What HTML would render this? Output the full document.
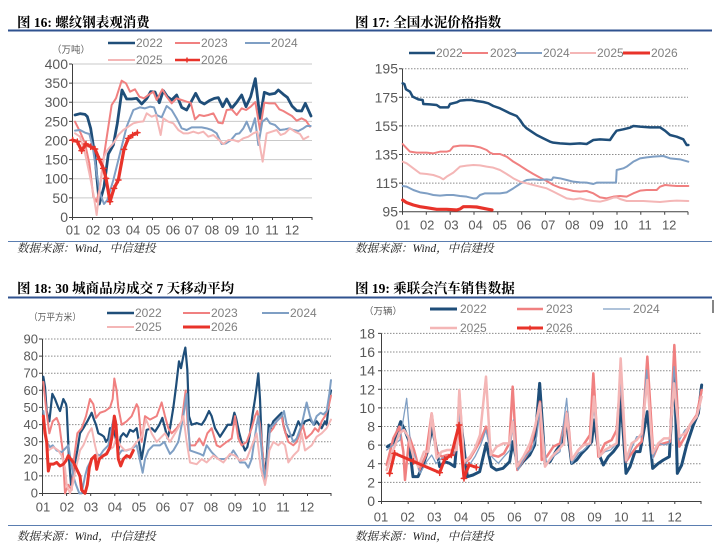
<!DOCTYPE html>
<html><head><meta charset="utf-8"><style>
html,body{margin:0;padding:0;background:#fff;width:720px;height:551px;overflow:hidden}
svg{display:block}
.t{font-family:"Liberation Serif","Noto Serif CJK SC",serif;font-weight:bold;font-size:13.5px;fill:#000}
.s{font-family:"Liberation Serif","Noto Serif CJK SC",serif;font-style:italic;font-size:11.5px;fill:#222}
.ax{font-family:"Liberation Sans",sans-serif;font-size:13px;fill:#595959}
.ay{font-family:"Liberation Sans",sans-serif;font-size:14px;fill:#595959}
.lg{font-family:"Liberation Sans",sans-serif;font-size:12px;fill:#808080}
.u{font-family:"Liberation Sans","Noto Sans CJK SC",sans-serif;font-size:9.5px;fill:#595959}
.l{fill:none;stroke-linejoin:round;stroke-linecap:round;vector-effect:non-scaling-stroke}
.g1{stroke:#c9c9c9;stroke-width:1}
.gd{stroke:#8c8c8c;stroke-width:1;stroke-dasharray:1.5 1.5}
.axl{stroke:#404040;stroke-width:1;fill:none}
</style></head><body>
<svg width="720" height="551" viewBox="0 0 720 551" xmlns="http://www.w3.org/2000/svg">
<!-- rules -->
<line x1="8" y1="30.5" x2="712" y2="30.5" stroke="#2f528f" stroke-width="2"/>
<line x1="8" y1="241.5" x2="712" y2="241.5" stroke="#5a7db0" stroke-width="1"/>
<line x1="8" y1="297.5" x2="712" y2="297.5" stroke="#2f528f" stroke-width="2"/>
<line x1="8" y1="525.5" x2="712" y2="525.5" stroke="#5a7db0" stroke-width="1"/>
<line x1="713" y1="300" x2="713" y2="313" stroke="#333" stroke-width="1.2"/>

<!-- titles -->
<text class="t" x="17" y="27">图 16: 螺纹钢表观消费</text>
<text class="t" x="355" y="27">图 17: 全国水泥价格指数</text>
<text class="t" x="17" y="293">图 18: 30 城商品房成交 7 天移动平均</text>
<text class="t" x="355" y="293">图 19: 乘联会汽车销售数据</text>
<!-- sources -->
<text class="s" x="17" y="252">数据来源：Wind，中信建投</text>
<text class="s" x="355" y="252">数据来源：Wind，中信建投</text>
<text class="s" x="17" y="540">数据来源：Wind，中信建投</text>
<text class="s" x="355" y="540">数据来源：Wind，中信建投</text>

<!-- ================= CHART 1 ================= -->
<g>
<line class="g1" x1="72" y1="64" x2="312" y2="64"/>
<line class="g1" x1="72" y1="83.1" x2="312" y2="83.1"/>
<line class="g1" x1="72" y1="102.25" x2="312" y2="102.25"/>
<line class="g1" x1="72" y1="121.4" x2="312" y2="121.4"/>
<line class="g1" x1="72" y1="140.5" x2="312" y2="140.5"/>
<line class="g1" x1="72" y1="159.6" x2="312" y2="159.6"/>
<line class="g1" x1="72" y1="178.75" x2="312" y2="178.75"/>
<line class="g1" x1="72" y1="197.9" x2="312" y2="197.9"/>
<path class="axl" d="M72.5 64V217.5H312M69 64h3M69 83.1h3M69 102.25h3M69 121.4h3M69 140.5h3M69 159.6h3M69 178.75h3M69 197.9h3M69 217.5h3
M72.5 217v3M92.5 217v3M112.5 217v3M132.5 217v3M152.5 217v3M172.5 217v3M192.5 217v3M212.5 217v3M232.5 217v3M252.5 217v3M272.5 217v3M292.5 217v3M312 217v3"/>
<g class="ay" text-anchor="end">
<text x="68" y="69">400</text><text x="68" y="88.1">350</text><text x="68" y="107.2">300</text><text x="68" y="126.4">250</text><text x="68" y="145.5">200</text><text x="68" y="164.6">150</text><text x="68" y="183.7">100</text><text x="68" y="202.9">50</text><text x="68" y="222">0</text>
</g>
<g class="ax" text-anchor="middle">
<text x="73" y="234.5">01</text><text x="93" y="234.5">02</text><text x="113" y="234.5">03</text><text x="133" y="234.5">04</text><text x="153" y="234.5">05</text><text x="173" y="234.5">06</text><text x="192" y="234.5">07</text><text x="212" y="234.5">08</text><text x="232" y="234.5">09</text><text x="252" y="234.5">10</text><text x="272" y="234.5">11</text><text x="292" y="234.5">12</text>
</g>
<text class="u" x="52" y="53">（万吨）</text>
<!-- legend -->
<line x1="108" y1="43" x2="135" y2="43" stroke="#1f4e79" stroke-width="2.5"/><text class="lg" x="136" y="47">2022</text>
<line x1="175" y1="43" x2="200" y2="43" stroke="#f08080" stroke-width="2"/><text class="lg" x="201" y="47">2023</text>
<line x1="245" y1="43" x2="270" y2="43" stroke="#7f9fc4" stroke-width="2"/><text class="lg" x="271" y="47">2024</text>
<line x1="108" y1="60" x2="135" y2="60" stroke="#f4b6b6" stroke-width="2"/><text class="lg" x="136" y="64">2025</text>
<line x1="175" y1="60" x2="200" y2="60" stroke="#e8332a" stroke-width="2.5"/><path d="M184.5 60h5M187 57.5v5" stroke="#e8332a" stroke-width="1.5"/><text class="lg" x="201" y="64">2026</text>
<g transform="scale(0.333333)">
<polyline class="l" stroke="#1f4e79" stroke-width="2.8" points="225,345 240,341 255,343 262,350 272,385 285,470 298,612 312,560 325,462 340,435 352,370 366,270 380,297 395,297 410,295 425,312 440,296 452,275 465,276 478,308 490,272 502,290 515,300 530,285 545,322 560,330 572,308 587,280 600,305 613,312 628,302 643,295 655,293 668,320 680,297 695,325 710,307 725,285 738,320 752,290 766,236 780,355 793,277 808,283 825,280 835,270 850,283 862,292 876,318 890,332 905,333 916,310 933,348"/>
<polyline class="l" stroke="#f08080" stroke-width="2" points="225,365 240,395 255,430 268,490 280,590 290,605 300,560 310,480 322,400 335,315 348,295 365,242 378,250 390,275 405,268 418,290 432,295 445,285 460,275 470,300 487,268 500,290 515,310 530,295 545,300 560,305 572,308 585,358 598,345 612,348 625,345 640,340 655,368 668,370 680,330 695,328 710,345 725,325 738,330 752,320 766,306 780,390 793,308 808,310 825,310 838,328 850,333 862,340 876,348 890,362 905,355 918,362 930,380"/>
<polyline class="l" stroke="#7f9fc4" stroke-width="2" points="225,392 240,390 255,398 268,402 278,440 290,520 300,580 312,612 322,600 340,540 360,460 380,380 400,330 420,322 435,325 450,320 462,322 470,345 485,352 500,318 515,330 530,355 545,385 560,390 575,382 590,382 605,382 620,385 635,390 650,400 665,432 678,430 693,420 708,402 718,400 730,385 740,365 752,395 765,355 775,435 787,365 800,355 810,370 825,375 840,390 855,388 868,385 880,390 895,393 910,385 920,378 932,378"/>
<polyline class="l" stroke="#f4b6b6" stroke-width="2" points="225,400 240,410 255,460 268,520 280,580 290,645 300,560 312,470 322,450 340,430 355,405 370,390 385,380 400,370 415,366 430,364 440,340 455,350 468,345 482,405 490,355 505,365 520,370 535,390 550,400 565,400 580,395 595,400 610,395 625,410 640,405 655,418 670,432 685,420 700,420 715,425 730,415 745,410 760,400 772,395 788,485 800,400 815,395 830,390 842,405 855,400 870,385 885,395 900,402 910,418 925,410"/>
<polyline class="l" stroke="#e8332a" stroke-width="3.2" points="218,420 232,425 245,452 258,432 272,440 285,447 298,478 310,505 318,535 330,605 342,565 355,540 372,448 385,415 398,405 412,398"/>
<path class="l" stroke="#e8332a" stroke-width="1.5" d="M210 420h16M218 412v16M224 425h16M232 417v16M237 452h16M245 444v16M250 432h16M258 424v16M264 440h16M272 432v16M277 447h16M285 439v16M290 478h16M298 470v16M302 505h16M310 497v16M310 535h16M318 527v16M322 605h16M330 597v16M334 565h16M342 557v16M347 540h16M355 532v16M364 448h16M372 440v16M377 415h16M385 407v16M390 405h16M398 397v16M404 398h16M412 390v16"/>
</g>
</g>

<!-- ================= CHART 2 ================= -->
<g>
<path class="gd" d="M402 68.7H688M402 97.3H688M402 125.9H688M402 154.5H688M402 183.1H688"/>
<path class="axl" d="M402.5 68.7V211.7H688M399 68.7h3M399 97.3h3M399 125.9h3M399 154.5h3M399 183.1h3M399 211.7h3
M402.5 211.7v3M426.3 211.7v3M450.2 211.7v3M474 211.7v3M497.8 211.7v3M521.7 211.7v3M545.5 211.7v3M569.3 211.7v3M593.2 211.7v3M617 211.7v3M640.8 211.7v3M664.7 211.7v3M688 211.7v3"/>
<g class="ay" text-anchor="end">
<text x="398" y="73.7">195</text><text x="398" y="102.3">175</text><text x="398" y="130.9">155</text><text x="398" y="159.5">135</text><text x="398" y="188.1">115</text><text x="398" y="216.7">95</text>
</g>
<g class="ax" text-anchor="middle">
<text x="403" y="229.5">01</text><text x="427.2" y="229.5">02</text><text x="451.4" y="229.5">03</text><text x="475.6" y="229.5">04</text><text x="499.8" y="229.5">05</text><text x="524" y="229.5">06</text><text x="548.2" y="229.5">07</text><text x="572.4" y="229.5">08</text><text x="596.6" y="229.5">09</text><text x="620.8" y="229.5">10</text><text x="645" y="229.5">11</text><text x="669.2" y="229.5">12</text>
</g>
<line x1="409" y1="53" x2="435" y2="53" stroke="#1f4e79" stroke-width="2.5"/><text class="lg" x="436" y="57">2022</text>
<line x1="462" y1="53" x2="488" y2="53" stroke="#f08080" stroke-width="2"/><text class="lg" x="490" y="57">2023</text>
<line x1="516" y1="53" x2="542" y2="53" stroke="#7f9fc4" stroke-width="2"/><text class="lg" x="543" y="57">2024</text>
<line x1="570" y1="53" x2="596" y2="53" stroke="#f4b6b6" stroke-width="2"/><text class="lg" x="597" y="57">2025</text>
<line x1="623" y1="53" x2="650" y2="53" stroke="#e8332a" stroke-width="3"/><text class="lg" x="651" y="57">2026</text>
<g transform="translate(360,0) scale(0.333333)">
<polyline class="l" stroke="#1f4e79" stroke-width="2.5" points="128,250 133,252 138,268 150,275 158,290 175,298 188,300 190,312 210,313 230,315 240,322 265,322 270,312 290,307 300,302 320,300 335,300 350,303 370,306 385,310 400,318 420,325 430,330 450,340 470,348 480,360 490,375 500,385 515,395 530,405 550,415 570,425 580,428 600,430 630,432 660,430 680,432 700,420 720,418 750,420 760,405 770,392 790,388 810,383 820,378 840,380 870,382 900,382 915,392 930,405 950,410 970,418 980,435 985,435"/>
<polyline class="l" stroke="#f08080" stroke-width="2" points="128,432 140,445 150,455 170,458 200,458 220,460 240,455 260,455 270,452 280,440 300,437 320,437 340,438 360,442 380,450 390,458 400,462 420,462 440,470 460,485 480,497 500,510 520,522 540,533 560,543 580,555 600,563 620,568 640,573 660,575 680,573 700,580 720,592 740,595 760,590 780,588 800,590 820,580 840,572 860,570 890,570 900,560 915,555 935,557 950,558 985,558"/>
<polyline class="l" stroke="#7f9fc4" stroke-width="2" points="128,558 140,560 160,570 180,577 200,580 220,585 240,587 260,585 280,585 300,588 320,590 340,595 350,595 360,585 375,580 400,580 420,580 440,577 460,565 475,555 490,545 500,540 520,538 540,540 560,538 575,540 580,532 600,535 620,540 640,545 660,547 680,548 700,552 710,548 730,548 760,548 768,548 770,510 790,505 800,500 820,485 840,475 860,472 880,470 910,468 930,475 960,478 985,485"/>
<polyline class="l" stroke="#f4b6b6" stroke-width="2" points="128,485 140,490 160,505 180,520 200,522 220,525 240,532 250,538 260,530 280,518 300,500 320,497 340,495 360,496 380,500 400,503 420,510 440,522 460,535 480,545 500,550 520,555 540,560 560,565 580,575 600,585 620,595 640,598 660,595 680,600 700,603 720,605 740,600 760,593 770,592 780,597 800,603 820,603 850,603 880,605 900,606 930,603 950,602 985,603"/>
<polyline class="l" stroke="#e8332a" stroke-width="3.2" points="128,600 140,608 160,615 180,620 200,623 230,628 260,628 290,630 300,627 310,620 330,620 350,621 370,625 385,628 396,630"/>
</g>
</g>

<!-- ================= CHART 3 ================= -->
<g>
<path class="gd" d="M42 339H331M42 356.1H331M42 373.2H331M42 390.3H331M42 407.4H331M42 424.6H331M42 441.7H331M42 458.8H331M42 475.9H331"/>
<path class="axl" d="M42.5 339V493.5H331M39 339h3M39 356.1h3M39 373.2h3M39 390.3h3M39 407.4h3M39 424.6h3M39 441.7h3M39 458.8h3M39 475.9h3M39 493.5h3
M42.5 493v3M66.6 493v3M90.7 493v3M114.8 493v3M138.8 493v3M162.9 493v3M187 493v3M211.1 493v3M235.2 493v3M259.3 493v3M283.4 493v3M307.5 493v3M331 493v3"/>
<g class="ax" text-anchor="end">
<text x="38" y="343.5">90</text><text x="38" y="360.6">80</text><text x="38" y="377.7">70</text><text x="38" y="394.8">60</text><text x="38" y="411.9">50</text><text x="38" y="429.1">40</text><text x="38" y="446.2">30</text><text x="38" y="463.3">20</text><text x="38" y="480.4">10</text><text x="38" y="497.5">0</text>
</g>
<g class="ax" text-anchor="middle">
<text x="43" y="511.5">01</text><text x="67" y="511.5">02</text><text x="91" y="511.5">03</text><text x="115" y="511.5">04</text><text x="139" y="511.5">05</text><text x="163" y="511.5">06</text><text x="187" y="511.5">07</text><text x="211" y="511.5">08</text><text x="235" y="511.5">09</text><text x="259" y="511.5">10</text><text x="283" y="511.5">11</text><text x="307" y="511.5">12</text>
</g>
<text class="u" x="29" y="320.5" textLength="52" lengthAdjust="spacingAndGlyphs">（万平方米）</text>
<line x1="107" y1="313" x2="134" y2="313" stroke="#1f4e79" stroke-width="2.5"/><text class="lg" x="135" y="317">2022</text>
<line x1="183" y1="313" x2="210" y2="313" stroke="#f08080" stroke-width="2"/><text class="lg" x="211" y="317">2023</text>
<line x1="262" y1="313" x2="289" y2="313" stroke="#7f9fc4" stroke-width="2"/><text class="lg" x="290" y="317">2024</text>
<line x1="107" y1="327" x2="134" y2="327" stroke="#f4b6b6" stroke-width="2"/><text class="lg" x="135" y="331">2025</text>
<line x1="183" y1="327" x2="210" y2="327" stroke="#e8332a" stroke-width="3"/><text class="lg" x="211" y="331">2026</text>
<g transform="translate(0,270) scale(0.333333)"><g transform="translate(0,670) scale(1,-5.144)">
<polyline class="l" stroke="#1f4e79" stroke-width="2.2" points="130,68 135,62 140,48 148,42 157,58 165,55 175,50 180,48 190,55 198,52 200,50 207,20 213,5 222,15 232,25 240,35 250,38 262,42 270,45 275,47 282,43 288,40 295,35 305,34 312,33 318,30 325,32 330,38 340,38 345,34 355,25 362,33 370,35 380,33 390,37 400,36 410,38 425,20 432,28 440,37 455,38 465,36 478,40 487,44 495,38 503,32 510,38 520,50 528,62 537,77 543,73 550,80 556,85 562,72 567,45 575,40 590,41 605,40 615,43 627,48 635,45 645,38 660,33 670,36 683,40 695,40 703,47 708,44 718,35 725,30 735,25 742,27 750,35 757,45 765,55 770,62 775,70 780,55 785,30 793,10 800,20 806,40 812,38 820,42 835,45 845,47 850,40 857,35 865,33 880,34 895,42 905,38 915,42 930,43 942,40 950,42 965,38 975,42 980,40 988,55 993,60"/>
<polyline class="l" stroke="#f08080" stroke-width="2" points="130,65 138,50 148,35 158,42 170,44 178,40 188,25 195,0 205,5 215,2 222,20 232,35 245,38 258,45 270,55 280,52 288,44 300,47 315,48 330,50 338,55 343,67 350,60 355,50 365,40 380,42 395,45 410,52 415,50 425,30 435,45 450,43 470,45 485,53 495,45 505,38 515,35 530,38 545,42 557,60 563,40 570,28 585,28 598,32 610,28 622,35 635,38 650,28 660,27 680,30 695,32 705,45 715,32 725,28 740,30 755,38 765,45 772,48 780,40 790,20 795,5 800,15 808,35 820,38 830,42 845,45 852,38 865,30 880,28 890,30 900,35 908,40 918,32 935,35 945,38 955,36 965,42 975,45 985,50 993,57"/>
<polyline class="l" stroke="#7f9fc4" stroke-width="2" points="130,48 140,30 150,27 158,28 170,25 185,24 195,26 205,28 213,18 220,10 228,5 238,0 245,0 255,10 262,15 275,20 290,23 300,22 310,25 325,28 330,33 342,45 348,42 355,22 365,25 380,25 395,26 410,28 428,12 435,20 445,25 460,28 480,28 493,30 500,27 510,23 520,25 535,30 550,45 560,58 565,40 570,25 585,24 600,23 610,22 620,28 635,24 655,20 675,20 690,22 700,25 710,22 720,18 735,18 745,15 755,20 770,40 775,45 785,25 793,8 800,15 810,38 830,42 845,45 852,48 860,40 870,35 880,30 890,32 905,40 920,53 930,45 940,40 950,45 962,47 970,46 980,48 988,58 993,66"/>
<polyline class="l" stroke="#f4b6b6" stroke-width="2" points="130,45 138,35 145,25 160,27 175,25 185,22 195,15 200,5 210,0 218,5 228,15 240,25 250,28 265,35 275,38 285,28 295,20 310,22 325,25 340,27 350,33 360,28 375,25 395,26 410,30 425,33 438,43 445,40 455,35 470,30 480,32 495,35 510,30 525,35 540,40 550,45 560,30 570,18 590,17 605,20 620,18 640,22 655,20 670,18 690,23 705,22 720,19 740,20 760,30 770,35 782,15 795,5 800,10 808,25 820,30 835,28 845,30 855,28 865,18 880,22 895,25 905,35 915,25 935,28 950,33 965,35 980,38 993,43"/>
<polyline class="l" stroke="#e8332a" stroke-width="3" points="130,45 135,35 140,30 145,13 150,17 160,17 170,18 180,16 190,17 198,19 205,22 212,20 220,18 228,15 240,10 245,2 255,0 262,5 268,15 275,20 285,22 290,14 298,20 310,22 320,23 330,27 338,35 343,45 348,40 355,20 362,16 370,20 380,22 390,21 400,25"/>
</g></g>
</g>

<!-- ================= CHART 4 ================= -->
<g>
<path class="gd" d="M381 333.4H701M381 352H701M381 370.7H701M381 389.3H701M381 407.9H701M381 426.5H701M381 445.1H701M381 463.8H701M381 482.4H701"/>
<path class="axl" d="M381.5 333.4V501.5H701M378 333.4h3M378 352h3M378 370.7h3M378 389.3h3M378 407.9h3M378 426.5h3M378 445.1h3M378 463.8h3M378 482.4h3M378 501.5h3
M381.5 501v3M408.2 501v3M434.8 501v3M461.5 501v3M488.2 501v3M514.8 501v3M541.5 501v3M568.2 501v3M594.8 501v3M621.5 501v3M648.2 501v3M674.8 501v3M701 501v3"/>
<g class="ay" text-anchor="end">
<text x="375" y="338.4">18</text><text x="375" y="357">16</text><text x="375" y="375.7">14</text><text x="375" y="394.3">12</text><text x="375" y="412.9">10</text><text x="375" y="431.5">8</text><text x="375" y="450.1">6</text><text x="375" y="468.8">4</text><text x="375" y="487.4">2</text><text x="375" y="506">0</text>
</g>
<g class="ax" text-anchor="middle">
<text x="381" y="521.5">01</text><text x="407.7" y="521.5">02</text><text x="434.4" y="521.5">03</text><text x="461.1" y="521.5">04</text><text x="487.8" y="521.5">05</text><text x="514.5" y="521.5">06</text><text x="541.2" y="521.5">07</text><text x="567.9" y="521.5">08</text><text x="594.6" y="521.5">09</text><text x="621.3" y="521.5">10</text><text x="648" y="521.5">11</text><text x="674.7" y="521.5">12</text>
</g>
<text class="u" x="364" y="314.5">（万辆）</text>
<line x1="430" y1="309" x2="457" y2="309" stroke="#1f4e79" stroke-width="3"/><text class="lg" x="460" y="313">2022</text>
<line x1="517" y1="309" x2="543" y2="309" stroke="#f08080" stroke-width="2.5"/><text class="lg" x="546" y="313">2023</text>
<line x1="603" y1="309" x2="630" y2="309" stroke="#7f9fc4" stroke-width="1.3"/><text class="lg" x="633" y="313">2024</text>
<line x1="430" y1="328" x2="457" y2="328" stroke="#f4b6b6" stroke-width="2.5"/><text class="lg" x="460" y="332">2025</text>
<line x1="517" y1="328" x2="543" y2="328" stroke="#e8332a" stroke-width="3"/><path d="M527.5 328h5M530 325.5v5" stroke="#e8332a" stroke-width="1.5"/><text class="lg" x="546" y="332">2026</text>
<g transform="translate(360,270) scale(0.333333)">
<polyline class="l" stroke="#1f4e79" stroke-width="3" points="82,530 99,520 122,455 134,480 146,510 159,620 174,620 189,585 204,540 216,470 229,535 239,590 254,575 269,580 284,590 299,420 309,510 322,620 339,615 359,605 379,520 394,590 409,600 429,595 449,575 459,515 474,595 489,575 509,555 524,525 539,340 555,580 570,575 590,540 605,520 620,460 635,580 650,570 665,550 680,535 695,515 702,450 718,555 730,585 745,560 760,545 775,525 782,375 798,610 810,590 825,545 840,545 862,425 878,595 895,580 910,570 928,560 943,290 952,610 965,585 980,525 1000,465 1015,430 1025,345"/>
<polyline class="l" stroke="#f08080" stroke-width="2.5" points="80,585 100,505 118,470 130,545 135,630 148,500 162,540 178,600 198,555 215,430 230,545 245,560 262,555 280,555 292,520 298,370 312,580 330,565 345,540 362,510 378,470 395,555 415,560 432,550 448,520 458,350 472,600 490,570 510,540 525,475 540,395 545,570 560,560 580,530 600,520 615,450 622,425 635,570 655,540 670,525 690,495 700,310 715,560 735,520 755,510 770,480 782,320 798,575 815,550 830,530 845,515 862,260 880,560 895,525 912,520 930,515 943,225 958,530 975,500 990,465 1010,435 1025,360"/>
<polyline class="l" stroke="#7f9fc4" stroke-width="1.3" points="80,540 100,525 120,510 140,385 152,530 165,560 180,610 200,575 215,555 228,580 245,565 262,560 280,555 298,430 310,560 325,590 345,560 362,525 378,480 395,560 415,580 432,560 450,540 460,450 474,600 495,560 515,540 530,500 540,420 560,585 580,560 600,545 620,385 635,580 655,550 672,540 690,520 702,415 718,560 735,545 752,540 770,520 782,330 798,575 815,535 830,500 845,500 860,300 878,565 895,520 912,525 928,520 942,290 958,510 975,480 990,470 1010,440 1025,380"/>
<polyline class="l" stroke="#f4b6b6" stroke-width="2.5" points="80,600 100,540 118,490 132,480 145,500 160,560 175,590 192,545 205,545 215,430 230,565 245,545 262,540 275,540 290,540 298,360 312,575 330,560 345,535 360,495 378,320 392,555 410,530 430,520 448,520 458,455 470,590 490,560 510,520 525,470 540,400 555,590 575,560 595,540 612,520 620,430 635,570 655,540 672,525 690,520 702,380 718,560 735,540 752,530 770,520 782,265 798,570 815,520 830,510 845,490 862,330 878,550 895,520 912,505 930,505 942,340 958,500 975,490 990,465 1010,440 1025,380"/>
<polyline class="l" stroke="#e8332a" stroke-width="3" points="89,610 104,550 160,574 239,608 254,568 274,555 297,465 312,625 327,585 349,592"/>
<path class="l" stroke="#e8332a" stroke-width="1.5" d="M81 610h16M89 602v16M96 550h16M104 542v16M152 574h16M160 566v16M231 608h16M239 600v16M246 568h16M254 560v16M266 555h16M274 547v16M289 465h16M297 457v16M304 625h16M312 617v16M319 585h16M327 577v16M341 592h16M349 584v16"/>
</g>
</g>
</svg>
</body></html>
